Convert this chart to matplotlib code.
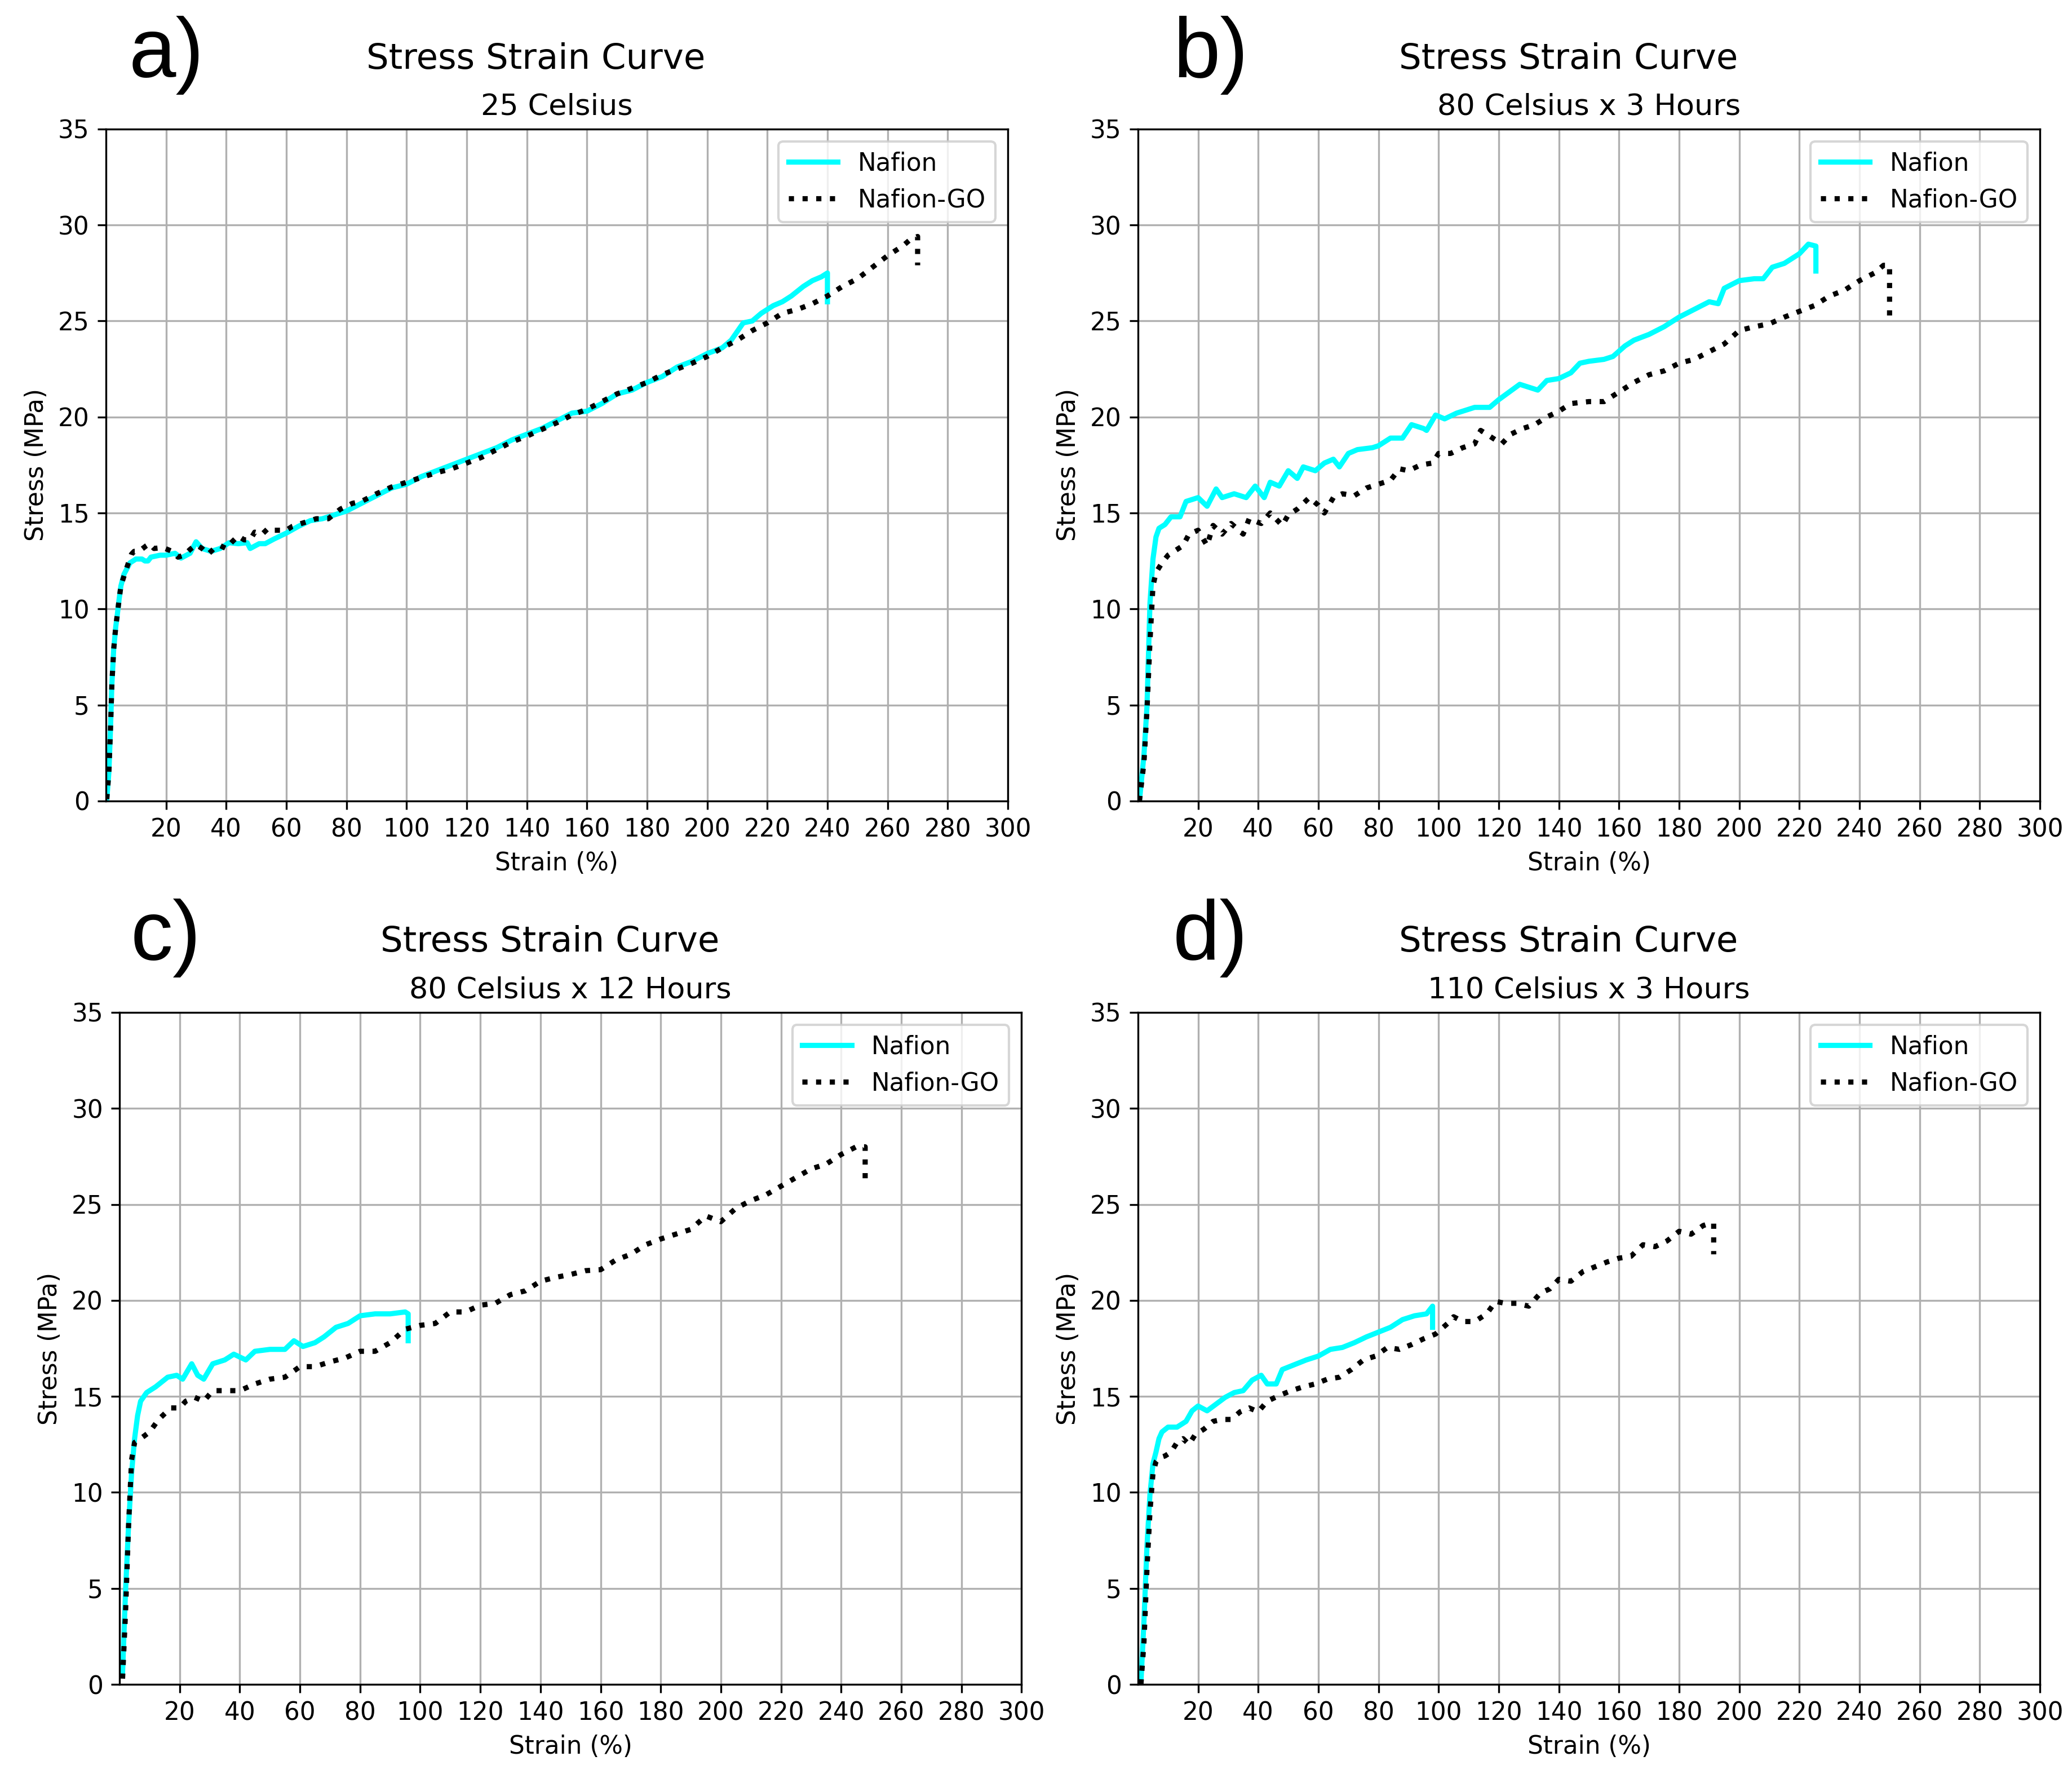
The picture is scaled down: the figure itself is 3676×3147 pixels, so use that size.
import matplotlib
matplotlib.use("Agg")
import matplotlib.pyplot as plt

# Strain (%) / Stress (MPa)

# a) 25 Celsius
a_naf_x = [0.3, 1, 1.5, 2, 2.6, 3.3, 3.8, 4.4, 5, 6, 7, 8, 9, 10, 12, 13, 14, 15, 18, 20,
           23, 25, 28, 30, 32, 35, 38, 41, 44, 47, 48, 51, 53, 56, 60, 64, 68, 72, 76, 80,
           85, 90, 95, 100, 105, 110, 115, 120, 125, 130, 135, 140, 145, 150, 155, 160, 165, 170, 175, 180,
           185, 190, 195, 200, 205, 208, 212, 215, 218, 222, 225, 228, 232, 235, 238, 240, 240]
a_naf_y = [0.1, 1.5, 3.6, 6.1, 7.9, 9.1, 9.7, 10.5, 11.2, 11.8, 12.1, 12.4, 12.5, 12.6, 12.6, 12.5, 12.5, 12.7, 12.8, 12.8,
           12.9, 12.65, 12.9, 13.5, 13.15, 13.0, 13.15, 13.45, 13.4, 13.45, 13.15, 13.4, 13.4, 13.65, 13.95, 14.3, 14.6, 14.7, 14.9, 15.1,
           15.5, 15.9, 16.3, 16.5, 16.9, 17.2, 17.5, 17.8, 18.1, 18.4, 18.8, 19.1, 19.4, 19.8, 20.2, 20.3, 20.7, 21.2, 21.4, 21.8,
           22.1, 22.6, 22.9, 23.3, 23.6, 24.0, 24.9, 25.0, 25.4, 25.8, 26.0, 26.3, 26.8, 27.1, 27.3, 27.5, 26.0]
a_go_x = [0.3, 1, 1.5, 2, 2.6, 3.3, 3.8, 4.4, 5, 6.2, 7.5, 8.5, 9.4, 11, 13.5, 14.5, 16, 19, 22, 24,
          26, 28, 30, 32, 34, 36, 38, 40, 42, 44, 46, 48, 49.5, 52, 54, 56, 58, 60, 62, 66,
          70, 74, 78, 82, 85, 90, 95, 100, 105, 110, 115, 120, 125, 130, 135, 140, 145, 150, 155, 160,
          165, 170, 175, 180, 185, 190, 195, 200, 205, 210, 215, 220, 225, 230, 235, 240, 245, 250, 255, 260,
          265, 268, 270, 270]
a_go_y = [0.1, 1.5, 3.6, 6.1, 7.9, 9.1, 9.7, 10.5, 11.2, 11.8, 12.4, 12.85, 13.0, 13.0, 13.3, 13.4, 13.15, 13.2, 13.0, 12.7,
          12.8, 13.1, 13.35, 13.15, 12.85, 13.15, 13.3, 13.15, 13.5, 13.8, 13.6, 13.6, 14.0, 13.9, 14.2, 14.1, 14.1, 14.1, 14.3, 14.5,
          14.7, 14.7, 15.2, 15.5, 15.6, 16.0, 16.35, 16.6, 16.85, 17.1, 17.3, 17.6, 17.9, 18.3, 18.7, 19.0, 19.35, 19.7, 20.1, 20.4,
          20.8, 21.2, 21.5, 21.8, 22.2, 22.5, 22.8, 23.15, 23.6, 24.0, 24.5, 24.9, 25.4, 25.6, 25.9, 26.3, 26.8, 27.2, 27.8, 28.4,
          28.9, 29.3, 29.4, 27.9]

# b) 80 Celsius x 3 Hours
b_naf_x = [0.5, 2, 3, 4, 5, 6, 7, 9, 11, 14, 16, 20, 23, 26, 28, 32, 36, 39, 42, 44,
           47, 50, 53, 55, 59, 62, 65, 67, 70, 73, 78, 80, 84, 88, 91, 95, 96, 99, 102, 106,
           112, 117, 120, 127, 131, 133, 136, 140, 144, 147, 150, 155, 158, 162, 165, 170, 175, 180, 185, 190,
           193, 195, 200, 205, 208, 211, 215, 220, 223, 225.5, 225.5]
b_naf_y = [0, 2.4, 4.9, 10.3, 12.6, 13.75, 14.2, 14.4, 14.8, 14.8, 15.6, 15.8, 15.35, 16.25, 15.8, 16.0, 15.8, 16.4, 15.8, 16.6,
           16.4, 17.2, 16.8, 17.4, 17.2, 17.6, 17.8, 17.4, 18.1, 18.3, 18.4, 18.5, 18.9, 18.9, 19.6, 19.4, 19.3, 20.1, 19.9, 20.2,
           20.5, 20.5, 20.9, 21.7, 21.5, 21.4, 21.9, 22.0, 22.3, 22.8, 22.9, 23.0, 23.15, 23.7, 24.0, 24.3, 24.7, 25.2, 25.6, 26.0,
           25.9, 26.7, 27.1, 27.2, 27.2, 27.8, 28.0, 28.5, 29.0, 28.9, 27.6]
b_go_x = [0.5, 2, 3, 4, 5, 6, 8, 10, 13, 15, 17, 20, 23, 25, 28, 31, 35, 37, 41, 44,
          48, 50, 53, 57, 60, 62, 65, 68, 72, 76, 80, 84, 87, 90, 94, 98, 100, 104, 108, 112,
          114, 117, 121, 124, 128, 132, 136, 140, 144, 150, 155, 160, 165, 170, 175, 180, 185, 190, 195, 200,
          205, 210, 215, 220, 225, 230, 235, 240, 245, 248, 250, 250]
b_go_y = [0, 2.0, 4.7, 8.3, 11.2, 11.9, 12.4, 12.8, 13.1, 13.3, 13.9, 14.1, 13.3, 14.35, 13.9, 14.45, 13.9, 14.7, 14.45, 15.0,
          14.35, 14.9, 15.2, 15.8, 15.4, 15.0, 15.8, 16.0, 15.9, 16.3, 16.5, 16.7, 17.3, 17.2, 17.5, 17.6, 18.1, 18.1, 18.4, 18.6,
          19.3, 19.0, 18.6, 19.1, 19.4, 19.6, 20.0, 20.3, 20.7, 20.8, 20.8, 21.3, 21.8, 22.2, 22.4, 22.8, 23.0, 23.4, 23.8, 24.5,
          24.7, 24.85, 25.2, 25.5, 25.8, 26.3, 26.6, 27.1, 27.5, 27.9, 27.9, 25.1]

# c) 80 Celsius x 12 Hours
c_naf_x = [1, 2, 3, 4, 5, 6, 7, 9, 12, 16, 19, 21, 24, 26, 28, 31, 35, 38, 42, 45,
           50, 55, 58, 61, 65, 68, 72, 76, 80, 85, 90, 95, 96, 96]
c_naf_y = [0.6, 4.9, 8.3, 11.0, 12.8, 14.0, 14.75, 15.2, 15.5, 16.0, 16.1, 15.9, 16.7, 16.1, 15.9, 16.7, 16.9, 17.2, 16.9, 17.35,
           17.45, 17.45, 17.9, 17.6, 17.8, 18.1, 18.6, 18.8, 19.2, 19.3, 19.3, 19.4, 19.3, 17.9]
c_go_x = [1, 2, 3, 4, 5, 7, 10, 13, 17, 20, 22, 25, 28, 31, 35, 40, 45, 50, 55, 60,
          65, 70, 75, 80, 85, 90, 95, 100, 105, 110, 115, 120, 125, 130, 135, 140, 145, 150, 155, 160,
          165, 170, 175, 180, 185, 190, 195, 200, 205, 210, 215, 220, 225, 230, 235, 240, 245, 248, 248]
c_go_y = [0.3, 3.8, 8.3, 11.7, 12.6, 12.8, 13.15, 13.8, 14.4, 14.4, 14.75, 14.95, 14.75, 15.3, 15.3, 15.3, 15.65, 15.9, 16.0, 16.55,
          16.55, 16.8, 17.0, 17.35, 17.35, 17.8, 18.5, 18.7, 18.8, 19.4, 19.4, 19.75, 19.85, 20.3, 20.5, 21.0, 21.2, 21.35, 21.55, 21.6,
          22.1, 22.4, 22.9, 23.2, 23.45, 23.7, 24.4, 24.1, 24.8, 25.2, 25.5, 25.95, 26.4, 26.85, 27.1, 27.6, 28.0, 28.0, 26.0]

# d) 110 Celsius x 3 Hours
d_naf_x = [1, 2, 3, 4, 5, 6, 7, 8, 10, 13, 16, 18, 20, 23, 26, 29, 32, 35, 38, 41,
           43, 46, 48, 52, 56, 60, 64, 68, 72, 76, 80, 84, 88, 92, 96, 98, 98]
d_naf_y = [0.1, 3.3, 7.2, 9.9, 11.5, 12.1, 12.8, 13.15, 13.4, 13.4, 13.7, 14.25, 14.5, 14.25, 14.6, 14.95, 15.2, 15.3, 15.85, 16.1,
           15.65, 15.65, 16.4, 16.65, 16.9, 17.1, 17.45, 17.55, 17.8, 18.1, 18.35, 18.6, 19.0, 19.2, 19.3, 19.7, 18.6]
d_go_x = [1, 2, 3, 4, 5, 6, 7, 9, 11, 13, 15, 17, 19, 22, 25, 28, 31, 34, 37, 40,
          43, 47, 51, 55, 59, 63, 67, 71, 75, 79, 83, 87, 91, 95, 99, 103, 105, 108, 112, 116,
          119, 122, 126, 130, 134, 137, 140, 144, 148, 152, 156, 160, 164, 168, 172, 176, 180, 184, 188, 190,
          191.5, 191.5]
d_go_y = [0, 2.2, 6.0, 9.0, 11.0, 11.6, 11.8, 11.9, 12.1, 12.6, 12.8, 12.5, 13.0, 13.3, 13.7, 13.8, 13.8, 14.2, 14.4, 14.2,
          14.75, 15.05, 15.3, 15.5, 15.65, 15.9, 16.0, 16.4, 16.9, 17.1, 17.55, 17.45, 17.7, 18.0, 18.25, 18.8, 19.15, 18.9, 18.9, 19.3,
          19.95, 19.85, 19.85, 19.7, 20.4, 20.6, 21.1, 21.0, 21.5, 21.75, 22.0, 22.2, 22.3, 22.9, 22.8, 23.1, 23.6, 23.45, 23.9, 24.0,
          24.0, 22.4]

subtitles = ['25 Celsius', '80 Celsius x 3 Hours', '80 Celsius x 12 Hours', '110 Celsius x 3 Hours']
letters = ['a)', 'b)', 'c)', 'd)']
xticks = list(range(20, 301, 20))
yticks = list(range(0, 36, 5))

plt.rcParams['font.size'] = 10.5

fig = plt.figure(figsize=(3676 / 300, 3147 / 300), dpi=300)

# axes boxes in figure fractions [left, bottom, width, height]
boxes = [[0.0511, 0.5485, 0.4353, 0.3788],
         [0.5492, 0.5485, 0.4353, 0.3788],
         [0.0577, 0.0505, 0.4353, 0.3788],
         [0.5492, 0.0505, 0.4353, 0.3788]]
letter_pos = [(0.0623, 0.9565), (0.5661, 0.9565), (0.0631, 0.4589), (0.5661, 0.4589)]
title_pos = [(0.2587, 0.9612), (0.7571, 0.9612), (0.2653, 0.4636), (0.7571, 0.4636)]

data = [(a_naf_x, a_naf_y, a_go_x, a_go_y),
        (b_naf_x, b_naf_y, b_go_x, b_go_y),
        (c_naf_x, c_naf_y, c_go_x, c_go_y),
        (d_naf_x, d_naf_y, d_go_x, d_go_y)]

for i in range(4):
    nx, ny, gx, gy = data[i]
    ax = fig.add_axes(boxes[i])
    ax.plot(nx, ny, color='cyan', lw=2.2, label='Nafion')
    ax.plot(gx, gy, color='black', ls=':', lw=2.2, label='Nafion-GO')
    ax.set_xlim(0, 300)
    ax.set_ylim(0, 35)
    ax.set_xticks(xticks)
    ax.set_yticks(yticks)
    ax.grid(True)
    ax.set_xlabel('Strain (%)')
    ax.set_ylabel('Stress (MPa)')
    ax.set_title(subtitles[i], fontsize=12.6)
    ax.legend(loc='upper right')
    fig.text(title_pos[i][0], title_pos[i][1], 'Stress Strain Curve', fontsize=15,
             ha='center', va='baseline')
    fig.text(letter_pos[i][0], letter_pos[i][1], letters[i], fontsize=36,
             family=['Liberation Sans', 'DejaVu Sans'], ha='left', va='baseline')

fig.savefig('out.png', dpi=300)
